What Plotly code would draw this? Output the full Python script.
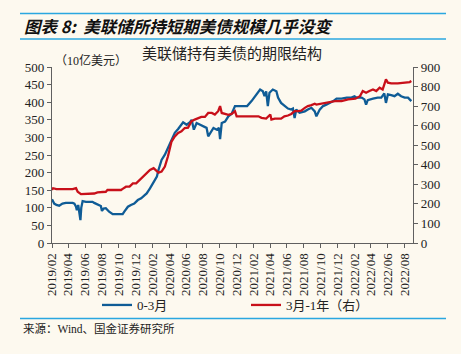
import plotly.graph_objects as go

# ---- data ----
blue_dates = [
    "2019-02-01", "2019-02-09", "2019-02-17", "2019-02-27", "2019-03-11", "2019-03-23",
    "2019-04-17", "2019-04-23", "2019-04-29", "2019-05-02", "2019-05-07", "2019-05-11",
    "2019-05-15", "2019-05-18", "2019-05-23", "2019-06-04", "2019-06-28", "2019-07-04",
    "2019-07-16", "2019-07-28", "2019-08-01", "2019-08-07", "2019-08-15", "2019-08-27",
    "2019-09-09", "2019-10-15", "2019-10-21", "2019-11-03", "2019-11-14", "2019-11-26",
    "2019-12-09", "2019-12-21", "2020-01-03", "2020-01-10", "2020-01-22", "2020-02-04",
    "2020-02-16", "2020-02-22", "2020-03-04", "2020-03-16", "2020-03-27", "2020-04-09",
    "2020-04-21", "2020-05-03", "2020-05-15", "2020-05-21", "2020-06-03", "2020-06-15",
    "2020-06-21", "2020-06-29", "2020-07-09", "2020-07-21", "2020-08-02", "2020-08-14",
    "2020-08-20", "2020-09-02", "2020-09-08", "2020-09-20", "2020-09-28", "2020-10-02",
    "2020-10-08", "2020-10-20", "2020-11-01", "2020-11-13", "2020-11-25", "2020-12-19",
    "2021-01-08", "2021-01-24", "2021-02-06", "2021-02-18", "2021-02-24", "2021-03-06",
    "2021-03-12", "2021-03-18", "2021-03-24", "2021-03-30", "2021-04-11", "2021-04-24",
    "2021-04-30", "2021-05-11", "2021-05-23", "2021-06-05", "2021-06-17", "2021-06-23",
    "2021-06-29", "2021-07-05", "2021-07-17", "2021-08-05", "2021-08-16", "2021-08-29",
    "2021-09-10", "2021-09-16", "2021-09-28", "2021-10-10", "2021-10-22", "2021-11-04",
    "2021-11-16", "2021-11-28", "2021-12-16", "2022-01-04", "2022-01-21", "2022-02-01",
    "2022-02-09", "2022-02-27", "2022-03-09", "2022-03-15", "2022-03-21", "2022-04-09",
    "2022-04-26", "2022-05-09", "2022-05-20", "2022-05-26", "2022-06-02", "2022-06-14",
    "2022-06-26", "2022-07-08", "2022-07-20", "2022-08-02", "2022-08-14", "2022-08-26",
]
blue_values = [
    124, 112, 108, 106, 112, 114,
    114, 112, 103, 93, 108, 84,
    65, 100, 119, 117, 117, 114,
    110, 105, 91, 98, 99, 89,
    82, 82, 89, 103, 108, 112,
    122, 127, 136, 141, 155, 174,
    189, 208, 236, 251, 270, 293,
    313, 324, 336, 343, 336, 343,
    350, 322, 341, 336, 331, 327,
    303, 317, 327, 322, 327, 295,
    341, 345, 360, 367, 389, 389,
    389, 403, 417, 427, 436, 431,
    417, 431, 389, 427, 436, 431,
    413, 398, 389, 382, 379, 382,
    355, 379, 370, 374, 379, 384,
    374, 360, 379, 389, 393, 398,
    403, 410, 410, 413, 413, 417,
    413, 413, 408, 393, 406, 410,
    413, 413, 425, 398, 422, 420,
    417, 424, 417, 413, 413, 403,
]

red_dates = [
    "2019-02-01", "2019-02-05", "2019-02-17", "2019-04-17", "2019-04-29", "2019-05-05",
    "2019-05-17", "2019-06-22", "2019-07-04", "2019-07-16", "2019-08-10", "2019-08-15",
    "2019-08-21", "2019-10-09", "2019-10-15", "2019-10-27", "2019-11-09", "2019-11-21",
    "2019-12-03", "2019-12-15", "2019-12-27", "2020-01-08", "2020-01-22", "2020-02-04",
    "2020-02-16", "2020-02-22", "2020-03-04", "2020-03-16", "2020-03-27", "2020-04-09",
    "2020-04-21", "2020-05-03", "2020-05-15", "2020-05-27", "2020-06-08", "2020-06-20",
    "2020-07-02", "2020-07-14", "2020-07-26", "2020-08-08", "2020-08-20", "2020-09-02",
    "2020-09-13", "2020-09-25", "2020-10-02", "2020-10-08", "2020-10-20", "2020-11-01",
    "2020-11-13", "2020-11-25", "2020-12-01", "2020-12-19", "2021-02-18", "2021-03-01",
    "2021-03-18", "2021-04-02", "2021-04-06", "2021-04-18", "2021-05-11", "2021-05-23",
    "2021-06-05", "2021-06-17", "2021-06-29", "2021-07-11", "2021-07-23", "2021-08-05",
    "2021-08-16", "2021-08-29", "2021-09-10", "2021-09-16", "2021-10-05", "2021-10-29",
    "2021-11-22", "2021-12-16", "2022-01-09", "2022-02-04", "2022-02-21", "2022-03-03",
    "2022-03-15", "2022-03-27", "2022-04-09", "2022-04-21", "2022-05-03", "2022-05-14",
    "2022-05-20", "2022-05-26", "2022-06-02", "2022-06-14", "2022-07-08", "2022-08-02",
    "2022-08-20", "2022-08-26",
]
red_values = [
    271, 280, 275, 275, 280, 262,
    250, 250, 253, 259, 259, 262,
    271, 271, 277, 288, 288, 305,
    305, 322, 340, 352, 374, 383,
    370, 360, 365, 391, 442, 519,
    545, 563, 571, 588, 590, 622,
    631, 640, 645, 645, 665, 665,
    657, 674, 700, 665, 660, 655,
    660, 674, 648, 648, 648, 640,
    636, 657, 631, 636, 636, 648,
    652, 660, 674, 674, 677, 691,
    700, 705, 712, 708, 713, 720,
    725, 725, 734, 738, 751, 777,
    768, 777, 785, 777, 794, 785,
    811, 837, 820, 816, 816, 818,
    823, 828,
]

series_names = ["0-3月", "3月-1年（右）"]
left_ticks = list(range(0, 501, 50))
right_ticks = list(range(0, 901, 100))

title_text = "图表 8:  美联储所持短期美债规模几乎没变"
chart_title = "美联储持有美债的期限结构"
unit_text = "（10亿美元）"
source_text = "来源：Wind、国金证券研究所"

# ---- styling ----
BG = "#FDF9EF"
BLUE = "#0F5C96"
RED = "#C8101A"
RULE = "#2AA7E0"
AX = "#606060"
SERIF = "Liberation Serif, Noto Sans CJK SC"
CJK = "Noto Sans CJK SC"

L, R, T, B = 52, 48, 67, 111
WIDTH, HEIGHT = 461, 354
PW = WIDTH - L - R
PH = HEIGHT - T - B


def px_x(p):
    return (p - L) / PW


def px_y(p):
    return (HEIGHT - B - p) / PH


fig = go.Figure()
fig.add_trace(go.Scatter(x=blue_dates, y=blue_values, name=series_names[0],
                         mode="lines", line=dict(color=BLUE, width=2.3), yaxis="y"))
fig.add_trace(go.Scatter(x=red_dates, y=red_values, name=series_names[1],
                         mode="lines", line=dict(color=RED, width=2.3), yaxis="y2"))

fig.update_layout(
    width=WIDTH, height=HEIGHT,
    margin=dict(l=L, r=R, t=T, b=B),
    paper_bgcolor=BG, plot_bgcolor=BG,
    font=dict(family=SERIF, size=13, color="#222"),
    showlegend=True,
    legend=dict(orientation="h", x=px_x(97), y=px_y(305), xanchor="left", yanchor="middle",
                bgcolor="rgba(0,0,0,0)", font=dict(family=SERIF, size=13, color="#222"),
                entrywidth=104, entrywidthmode="pixels", itemwidth=30),
    xaxis=dict(type="date", range=["2019-02-01", "2022-09-01"], tick0="2019-02-01", dtick="M2",
               tickformat="%Y/%m", tickangle=-90, showgrid=False, zeroline=False,
               showline=True, linecolor=AX, linewidth=1.3, ticks="outside", ticklen=4,
               tickcolor=AX, tickfont=dict(family=SERIF, size=13, color="#222")),
    yaxis=dict(range=[0, 500], tickvals=left_ticks, showgrid=False, zeroline=False,
               showline=True, linecolor=AX, linewidth=1.3, ticks="outside", ticklen=4,
               tickcolor=AX, tickfont=dict(family=SERIF, size=13, color="#222")),
    yaxis2=dict(range=[0, 900], tickvals=right_ticks, overlaying="y", side="right",
                showgrid=False, zeroline=False, showline=True, linecolor=AX, linewidth=1.3,
                ticks="outside", ticklen=4, tickcolor=AX,
                tickfont=dict(family=SERIF, size=13, color="#222")),
)

ann = []
ann.append(dict(text=title_text, x=px_x(22), y=px_y(26), xref="paper", yref="paper",
                xanchor="left", yanchor="middle", showarrow=False,
                font=dict(family=CJK, size=16.5, color="#111", weight="bold", style="italic")))
ann.append(dict(text=chart_title, x=px_x(232), y=px_y(53), xref="paper", yref="paper",
                xanchor="center", yanchor="middle", showarrow=False,
                font=dict(family=CJK, size=15, color="#222")))
ann.append(dict(text=unit_text, x=px_x(53), y=px_y(60), xref="paper", yref="paper",
                xanchor="left", yanchor="middle", showarrow=False,
                font=dict(family=SERIF, size=12, color="#222")))
ann.append(dict(text=source_text, x=px_x(21), y=px_y(328), xref="paper", yref="paper",
                xanchor="left", yanchor="middle", showarrow=False,
                font=dict(family=SERIF, size=11.5, color="#222")))
fig.update_layout(annotations=ann)

shapes = []
for yy in (13.5, 39):
    shapes.append(dict(type="line", xref="paper", yref="paper", x0=px_x(20), x1=px_x(446),
                       y0=px_y(yy), y1=px_y(yy), line=dict(color=RULE, width=1.5)))
shapes.append(dict(type="line", xref="paper", yref="paper", x0=px_x(20), x1=px_x(446),
                   y0=px_y(318.5), y1=px_y(318.5), line=dict(color=RULE, width=1.5)))
fig.update_layout(shapes=shapes)

fig.write_html("out.html")
